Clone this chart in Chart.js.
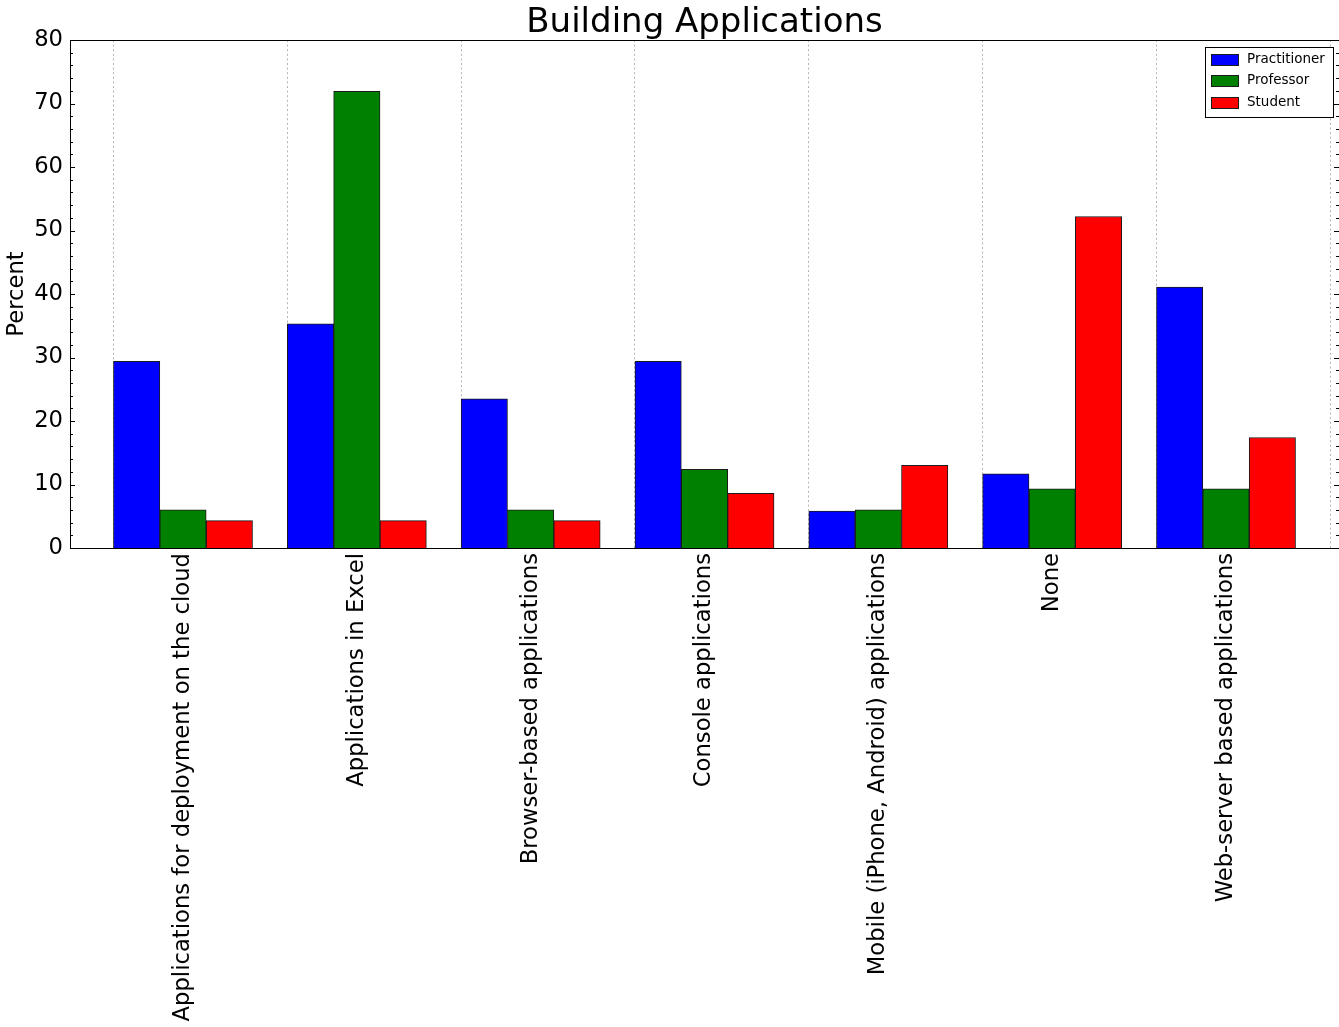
<!DOCTYPE html>
<html>
<head>
<meta charset="utf-8">
<title>Building Applications</title>
<script src="https://cdn.jsdelivr.net/npm/chart.js@4.4.1/dist/chart.umd.min.js"></script>
<style>
html, body { margin: 0; padding: 0; background: #fff; }
#wrap { width: 1339px; height: 1027px; }
</style>
</head>
<body>
<div id="wrap"><canvas id="chart" width="1339" height="1027"></canvas></div>
<script>
// survey answers, percent of each group
const categories = [
    'Applications for deployment on the cloud',
    'Applications in Excel',
    'Browser-based applications',
    'Console applications',
    'Mobile (iPhone, Android) applications',
    'None',
    'Web-server based applications'
];
const practitioner = [29.4, 35.3, 23.5, 29.4, 5.8, 11.7, 41.1];
const professor    = [6.0, 71.9, 6.0, 12.4, 6.0, 9.3, 9.3];
const student      = [4.3, 4.3, 4.3, 8.6, 13.0, 52.2, 17.4];
const yTickValues  = [0, 10, 20, 30, 40, 50, 60, 70, 80];
const chartTitle   = 'Building Applications';

const FONT = 'DejaVu Sans';
const LABEL_SIZE = 22.7;
const barWidth = 0.8 / 3;   // three bars share 0.8 of each slot

function toBars(values, slot) {
    return values.map((v, i) => ({ x: i + barWidth * (slot + 0.5), y: v }));
}

function makeDataset(label, values, slot, color) {
    return {
        label: label,
        data: toBars(values, slot),
        backgroundColor: color,
        borderColor: '#1a1a1a',
        borderWidth: 1,
        grouped: false,
        barPercentage: 1,
        categoryPercentage: 1
    };
}

// frame, inward ticks, title and legend box
const decorations = {
    id: 'decorations',
    afterDraw(chart) {
        const { ctx, chartArea: a, scales } = chart;
        const y = scales.y;
        ctx.save();
        ctx.strokeStyle = '#000';
        ctx.lineWidth = 1;
        ctx.strokeRect(a.left + 0.5, a.top + 0.5, a.right - a.left, a.bottom - a.top);

        ctx.beginPath();
        for (let v = y.min; v <= y.max; v += 2) {
            const py = Math.round(y.getPixelForValue(v)) + 0.5;
            const len = v % 10 === 0 ? 5 : 3;
            ctx.moveTo(a.left, py);  ctx.lineTo(a.left + len, py);
            ctx.moveTo(a.right, py); ctx.lineTo(a.right - len, py);
        }
        ctx.stroke();

        ctx.fillStyle = '#000';
        ctx.font = '34px "' + FONT + '"';
        ctx.textAlign = 'center';
        ctx.textBaseline = 'alphabetic';
        ctx.fillText(chartTitle, (a.left + a.right) / 2, 32);

        // legend, upper right
        const sets = chart.data.datasets;
        ctx.font = '13.5px "' + FONT + '"';
        let textW = 0;
        sets.forEach(ds => { textW = Math.max(textW, ctx.measureText(ds.label).width); });
        const boxW = Math.round(6 + 27 + 9 + textW + 8);
        const lx = Math.round(a.right - 6 - boxW);
        const ly = Math.round(a.top + 7);
        ctx.fillStyle = '#fff';
        ctx.fillRect(lx, ly, boxW, 70);
        ctx.strokeRect(lx + 0.5, ly + 0.5, boxW, 70);
        ctx.textAlign = 'left';
        ctx.textBaseline = 'middle';
        sets.forEach((ds, i) => {
            const cy = ly + 12 + i * 21.7;
            ctx.fillStyle = ds.backgroundColor;
            ctx.fillRect(lx + 6, Math.round(cy - 5.5), 27, 11);
            ctx.strokeStyle = '#1a1a1a';
            ctx.strokeRect(lx + 6.5, Math.round(cy - 5.5) + 0.5, 27, 11);
            ctx.fillStyle = '#000';
            ctx.fillText(ds.label, lx + 6 + 27 + 9, cy);
        });
        ctx.restore();
    }
};

const xMin = -0.25, xMax = 7.05;

const ctx = document.getElementById('chart').getContext('2d');
const chart = new Chart(ctx, {
    type: 'bar',
    data: {
        datasets: [
            makeDataset('Practitioner', practitioner, 0, '#0000ff'),
            makeDataset('Professor', professor, 1, '#008000'),
            makeDataset('Student', student, 2, '#ff0000')
        ]
    },
    options: {
        responsive: false,
        maintainAspectRatio: false,
        devicePixelRatio: 1,
        animation: false,
        layout: { padding: { top: 40, left: 0, right: 0, bottom: 0 } },
        plugins: {
            legend: { display: false },
            title: { display: false },
            tooltip: { enabled: false }
        },
        scales: {
            x: {
                type: 'linear',
                offset: false,
                min: xMin,
                max: xMax,
                afterBuildTicks: s => { s.ticks = categories.map((c, i) => ({ value: i + 0.4 })); },
                ticks: {
                    autoSkip: false,
                    maxRotation: 90,
                    minRotation: 90,
                    padding: 5,
                    color: '#000',
                    font: { family: FONT, size: LABEL_SIZE },
                    callback: (v, i) => categories[i]
                },
                grid: { display: false, drawTicks: false, offset: false },
                border: { display: false },
                afterFit: s => { s.height = 479; }
            },
            xg: {
                type: 'linear',
                position: 'bottom',
                offset: false,
                min: xMin,
                max: xMax,
                afterBuildTicks: s => { s.ticks = categories.concat(['']).map((c, i) => ({ value: i })); },
                ticks: { display: false },
                grid: { color: '#b4b4b4', lineWidth: 1, drawTicks: false, offset: false },
                border: { display: false, dash: [2, 2.6] },
                afterFit: s => { s.height = 0; }
            },
            y: {
                min: 0,
                max: 80,
                afterBuildTicks: s => { s.ticks = yTickValues.map(v => ({ value: v })); },
                ticks: { color: '#000', padding: 7, font: { family: FONT, size: LABEL_SIZE } },
                grid: { display: false, drawTicks: false },
                border: { display: false },
                title: {
                    display: true,
                    text: 'Percent',
                    color: '#000',
                    font: { family: FONT, size: LABEL_SIZE },
                    padding: { top: 3, bottom: 4 }
                },
                afterFit: s => { s.width = 70; }
            }
        }
    },
    plugins: [decorations]
});
</script>
</body>
</html>
